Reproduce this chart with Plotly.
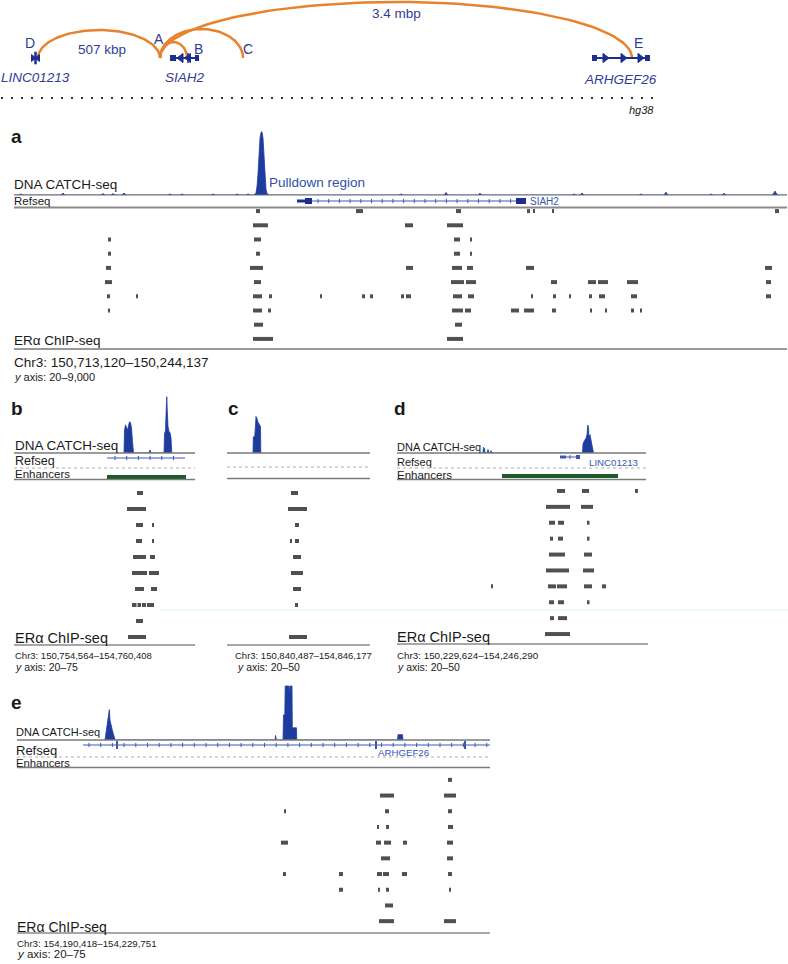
import numpy as np
import plotly.graph_objects as go

W, H = 788, 964
FONT = "Liberation Sans, Arial, Helvetica, sans-serif"
ORANGE = "#E8822C"
NAVY = "#1F2E8E"
LABEL_BLUE = "#2F3D98"
TRACK_BLUE = "#1E3C9E"
GENE_BLUE = "#3B58B8"
CHIP_GRAY = "#505050"
ENH_GREEN = "#1D5A2B"
LINE_GRAY = "#8A8A8A"
BLACK = "#1a1a1a"

# ---------------- schematic (top) ----------------
anchor_names = ["D", "A", "B", "C", "E"]
anchor_pos = [38, 160, 187, 243, 632]
letter_x = [30, 159, 198, 248, 638]
letter_h = [15, 19, 9, 9, 15]
arc_from = ["D", "A", "A", "A"]
arc_to = ["A", "B", "C", "E"]
arc_height = [28, 16, 29, 56]
arc_text = ["507 kbp", "3.4 mbp"]
arc_text_x = [102, 396]
arc_text_h = [9, 45]
gene_names = ["LINC01213", "SIAH2", "ARHGEF26"]
gene_label_x = [35, 185, 620]
gene_label_h = [-19, -19, -21]

# ---------------- DNA CATCH-seq signals ----------------
a_sig_x = [14, 19, 21, 23, 61, 63, 65, 101, 103, 105, 111, 113, 115, 122, 124, 126,
           168, 170, 172, 180, 182, 184, 211, 213, 215, 235, 237, 239, 246, 248, 250,
           254, 256, 257, 258, 259, 260, 261, 262, 263, 264, 265, 266, 267, 269,
           399, 401, 403, 444, 446, 448, 478, 480, 482, 572, 574, 576, 580, 582, 584,
           639, 641, 643, 664, 666, 668, 709, 711, 713, 722, 724, 726,
           772, 774, 775, 776, 778, 787]
a_sig_v = [0, 0, 150, 0, 0, 280, 0, 0, 200, 0, 0, 200, 0, 0, 280, 0,
           0, 150, 0, 0, 150, 0, 0, 150, 0, 0, 150, 0, 0, 150, 0,
           0, 300, 1200, 3000, 6000, 8000, 8800, 8900, 8000, 5500, 2500, 800, 200, 0,
           0, 150, 0, 0, 350, 0, 0, 250, 0, 0, 150, 0, 0, 280, 0,
           0, 150, 0, 0, 400, 0, 0, 150, 0, 0, 250, 0,
           0, 300, 550, 300, 0, 0]

b_sig_x = [124, 124.5, 125.5, 126.5, 127.5, 128.5, 129.5, 130.5, 131.5, 132.5, 133.5,
           149, 150, 151,
           164, 164.5, 165.5, 166.3, 166.8, 167.3, 168, 169, 170, 171, 171.8]
b_sig_v = [0, 30, 37, 33, 30, 36, 41, 40, 33, 15, 0,
           0, 4, 0,
           0, 25, 30, 60, 74, 55, 35, 28, 27, 20, 0]

c_sig_x = [253, 253.3, 254.8, 255.2, 256, 257, 258, 259.5, 260.5, 260.8]
c_sig_v = [0, 14, 15, 30, 32, 30, 27, 25, 23, 0]

d_sig_x = [483, 483.5, 484.5, 485, 487, 488, 489, 490, 491, 492,
           582.5, 583, 584.5, 586, 587, 587.8, 588.5, 589, 590, 591, 592, 593, 593.5]
d_sig_v = [0, 5, 4, 0, 0, 3, 0, 0, 2, 0,
           0, 8, 11, 13, 16, 24.5, 22, 14, 16, 12, 8, 4, 0]

e_sig_x = [105, 106, 107.5, 108.5, 109.3, 110, 111, 112.5, 114, 115,
           275, 275.5, 276.5,
           283, 283.5, 284.8, 285.2, 289, 289.5, 290, 292, 292.3, 296.5, 296.8,
           397.5, 398, 402.5, 403]
e_sig_v = [0, 10, 20, 30, 40, 26, 18, 12, 5, 0,
           0, 6, 0,
           0, 33, 33, 71, 71, 60, 71, 71, 16, 16, 0,
           0, 7, 7, 0]

# ---------------- ERa ChIP-seq peaks (one list per sample row) ----------------
a_peaks = [
    [(256, 260), (356, 363), (456, 461), (527, 530), (533, 535), (552, 554), (775, 779)],
    [(253, 268), (405, 413), (447, 463)],
    [(108, 111), (254, 261), (454, 460), (470, 471.5)],
    [(108, 111), (256, 260), (454, 460), (470, 471.5)],
    [(106, 111), (250, 263), (406, 413), (452, 462), (467, 473), (526, 534), (765, 772)],
    [(105, 112), (254, 261), (451, 464), (466, 476), (551, 557), (588, 596), (598, 608), (627, 638), (766, 771)],
    [(107, 110), (136, 138), (253, 262), (269, 272), (320, 322), (362, 365), (370, 373), (401, 404),
     (406, 411), (453, 462), (468, 474), (531, 532.5), (553, 556), (569, 570.5), (589, 592), (599, 605),
     (631, 637), (766, 771)],
    [(108, 110), (253, 262), (268, 271), (452, 463), (465, 471), (511, 519), (524, 534), (552, 556),
     (590, 591.5), (605, 606.5), (631, 634), (640, 641.5)],
    [(254, 263), (455, 462)],
    [(253, 273), (447, 463)],
]
b_peaks = [
    [(137, 143)],
    [(127, 146)],
    [(136, 143), (152, 154)],
    [(136, 142), (152.5, 154)],
    [(133, 146), (150, 155)],
    [(132, 147), (149, 159)],
    [(135, 144), (151, 157)],
    [(132, 136.5), (137.5, 141), (142, 146), (147, 154)],
    [(136, 143)],
    [(128, 146)],
]
c_peaks = [
    [(291, 298)],
    [(288, 307)],
    [(295, 299)],
    [(290, 291), (295, 299)],
    [(293, 301)],
    [(291, 303)],
    [(293, 301)],
    [(295, 298)],
    [],
    [(289, 307)],
]
d_peaks = [
    [(557, 565), (582, 589), (635, 638)],
    [(546, 570), (581, 593)],
    [(549, 555), (558, 564), (587, 589.5)],
    [(550, 553), (558, 563), (587, 589.5)],
    [(549, 565), (584, 592)],
    [(546, 569), (583, 594)],
    [(491, 493), (548, 556), (557, 567), (584, 592), (602, 606)],
    [(549, 554), (558, 564), (587, 589.5)],
    [(550, 554), (558, 567)],
    [(545, 570)],
]
e_peaks = [
    [(448, 452)],
    [(380, 394), (444, 456)],
    [(284, 285.5), (385, 389), (448, 452)],
    [(377, 378.5), (386, 389), (448, 453)],
    [(281, 288), (376, 381), (384, 391), (403, 407), (447, 453)],
    [(381, 390), (447, 453)],
    [(283, 286), (339, 343), (377, 382), (383, 389), (402, 407), (448, 452)],
    [(339, 343), (378, 379.5), (386, 389), (449, 451)],
    [(385, 393)],
    [(379, 394), (444, 456)],
]

# enhancer intervals
b_enh = (107, 186)
d_enh = (502, 618)

fig = go.Figure()
layout_axes = {}
shapes = []
anns = []


def yaxis_px(key, top, bot, rng):
    layout_axes[key] = dict(domain=[1 - bot / H, 1 - top / H], range=rng, visible=False,
                            fixedrange=True, anchor="x")


def hline(y, x0, x1, color=LINE_GRAY, width=1.5, dash="solid"):
    shapes.append(dict(type="line", xref="paper", yref="paper", x0=x0 / W, x1=x1 / W,
                       y0=1 - y / H, y1=1 - y / H, line=dict(color=color, width=width, dash=dash)))


def txt(s, x, y, size, color=BLACK, anchor="left"):
    anns.append(dict(text=s, x=x / W, y=1 - y / H, xref="paper", yref="paper", xanchor=anchor,
                     yanchor="middle", showarrow=False, borderpad=0,
                     font=dict(size=size, color=color, family=FONT)))


def sig_trace(xs, vs, ya):
    fig.add_trace(go.Scatter(x=xs, y=vs, mode="lines", fill="tozeroy",
                             line=dict(color=TRACK_BLUE, width=0.8), fillcolor=TRACK_BLUE,
                             xaxis="x", yaxis=ya, hoverinfo="skip"))


def chip_trace(peaks, ya, thick):
    rows, base, length = [], [], []
    for i, row in enumerate(peaks, start=1):
        for s, e in row:
            rows.append(i)
            base.append(s)
            length.append(max(e - s, 1.5))
    fig.add_trace(go.Bar(orientation="h", y=rows, x=length, base=base, width=thick,
                         marker=dict(color=CHIP_GRAY, line=dict(width=0)),
                         xaxis="x", yaxis=ya, hoverinfo="skip"))


def seg(x0, x1, ya, yv, color, width):
    fig.add_trace(go.Scatter(x=[x0, x1], y=[yv, yv], mode="lines", line=dict(color=color, width=width),
                             xaxis="x", yaxis=ya, hoverinfo="skip"))


def marks(xs, ya, yv, symbol, size, color, lw=1):
    fig.add_trace(go.Scatter(x=list(xs), y=[yv] * len(xs), mode="markers",
                             marker=dict(symbol=symbol, size=size, color=color,
                                         line=dict(color=color, width=lw)),
                             xaxis="x", yaxis=ya, hoverinfo="skip"))


# ---------------- top schematic ----------------
yaxis_px("yaxis", 0, 130, [-72, 58])
t = np.linspace(0, np.pi, 80)
pos = dict(zip(anchor_names, anchor_pos))
for f, to, h in zip(arc_from, arc_to, arc_height):
    xa, xb = pos[f], pos[to]
    cx, rx = (xa + xb) / 2, (xb - xa) / 2
    fig.add_trace(go.Scatter(x=cx - rx * np.cos(t), y=h * np.sin(t), mode="lines",
                             line=dict(color=ORANGE, width=2.5), xaxis="x", yaxis="y", hoverinfo="skip"))
for n, lx, lh in zip(anchor_names, letter_x, letter_h):
    anns.append(dict(text=n, x=lx, y=lh, xref="x", yref="y", showarrow=False,
                     font=dict(size=14, color=LABEL_BLUE, family=FONT)))
for s, lx, lh in zip(arc_text, arc_text_x, arc_text_h):
    anns.append(dict(text=s, x=lx, y=lh, xref="x", yref="y", showarrow=False,
                     font=dict(size=13.5, color=LABEL_BLUE, family=FONT)))
for g, lx, lh in zip(gene_names, gene_label_x, gene_label_h):
    anns.append(dict(text="<i>%s</i>" % g, x=lx, y=lh, xref="x", yref="y", showarrow=False,
                     font=dict(size=13.5, color=LABEL_BLUE, family=FONT)))
# gene glyphs
seg(31, 40, "y", 0, NAVY, 2)
marks([33], "y", 0, "triangle-right", 6, NAVY)
marks([35.5], "y", 0, "line-ns", 9, NAVY, 2.5)
marks([38], "y", 0, "triangle-left", 6, NAVY)
seg(170, 199, "y", 0, NAVY, 2)
seg(170, 176, "y", 0, NAVY, 6)
seg(195, 199, "y", 0, NAVY, 6)
marks([181, 188.5], "y", 0, "triangle-left", 8, NAVY)
marks([188], "y", 0, "line-ns", 7, NAVY, 1.5)
seg(592, 650, "y", 0, NAVY, 2)
seg(592, 597, "y", 0, NAVY, 6)
seg(645, 650, "y", 0, NAVY, 6)
marks([605, 623, 640], "y", 0, "triangle-right", 8, NAVY)
# dotted genome line
fig.add_trace(go.Scatter(x=[1, 653], y=[-40, -40], mode="lines",
                         line=dict(color="#333333", width=2, dash="2px,8px"),
                         xaxis="x", yaxis="y", hoverinfo="skip"))
anns.append(dict(text="<i>hg38</i>", x=656, y=-52, xref="x", yref="y", xanchor="right",
                 showarrow=False, font=dict(size=11, color=BLACK, family=FONT)))

# ---------------- panel a ----------------
yaxis_px("yaxis2", 131, 195, [0, 9000])
yaxis_px("yaxis3", 196, 206, [0, 1])
yaxis_px("yaxis4", 204, 346, [10.5, 0.5])
sig_trace(a_sig_x, a_sig_v, "y2")
seg(297, 522, "y3", 0.5, GENE_BLUE, 1)
marks(np.arange(318, 512, 10.7), "y3", 0.5, "line-ns", 3, GENE_BLUE, 1)
seg(297, 305, "y3", 0.5, NAVY, 3)
seg(305, 312, "y3", 0.5, NAVY, 6)
seg(516, 526, "y3", 0.5, NAVY, 6)
chip_trace(a_peaks, "y4", 0.28)
hline(195, 14, 787, "#6f6f6f", 1.2)
hline(207.5, 14, 787, "#8a8a8a", 2)
hline(349, 14, 787, "#9a9a9a", 2)
txt("<b>a</b>", 10, 137, 19)
txt("DNA CATCH-seq", 13, 184, 13.5)
txt("Pulldown region", 268, 182, 13.5, "#2F51A8")
txt("Refseq", 13, 201, 11.5)
txt("SIAH2", 529, 201, 10, "#3656B4")
txt("ERα ChIP-seq", 13, 340, 13.5)
txt("Chr3: 150,713,120–150,244,137", 13, 362, 13.5)
txt("<i>y</i> axis: 20–9,000", 13, 377, 11)

# faint scan line
hline(610, 160, 788, "#DDF3F7", 1)

# ---------------- panel b ----------------
yaxis_px("yaxis5", 396, 453, [0, 75])
yaxis_px("yaxis6", 454, 462, [0, 1])
yaxis_px("yaxis7", 473, 481, [0, 1])
yaxis_px("yaxis8", 485, 645, [10.5, 0.5])
sig_trace(b_sig_x, b_sig_v, "y5")
seg(107, 185, "y6", 0.5, GENE_BLUE, 1)
marks(np.arange(115, 180, 11.7), "y6", 0.5, "line-ns", 3, GENE_BLUE, 1)
seg(b_enh[0], b_enh[1], "y7", 0.5, ENH_GREEN, 4)
chip_trace(b_peaks, "y8", 0.25)
hline(453, 14, 195, "#7a7a7a", 1.5)
hline(468, 14, 195, "#b0b0b0", 1, "dot")
hline(479.5, 14, 195, "#7a7a7a", 1.5)
hline(645, 14, 195, "#8a8a8a", 1.5)
txt("<b>b</b>", 10, 408, 19)
txt("DNA CATCH-seq", 14, 445, 13.5)
txt("Refseq", 14, 461, 12.5)
txt("Enhancers", 14, 474, 11.5)
txt("ERα ChIP-seq", 14, 638, 14.5)
txt("Chr3: 150,754,564–154,760,408", 14, 655.5, 9.5)
txt("<i>y</i> axis: 20–75", 14, 666.5, 10.5)

# ---------------- panel c ----------------
yaxis_px("yaxis9", 396, 453, [0, 50])
yaxis_px("yaxis10", 485, 645, [10.5, 0.5])
sig_trace(c_sig_x, c_sig_v, "y9")
chip_trace(c_peaks, "y10", 0.25)
hline(453, 227, 370, "#7a7a7a", 1.5)
hline(467, 227, 370, "#b0b0b0", 1, "dot")
hline(478.5, 227, 370, "#7a7a7a", 1.5)
hline(645, 227, 370, "#8a8a8a", 1.5)
txt("<b>c</b>", 227, 408, 19)
txt("Chr3: 150,840,487–154,846,177", 234, 655.5, 9.5)
txt("<i>y</i> axis: 20–50", 236, 666.5, 10.5)

# ---------------- panel d ----------------
yaxis_px("yaxis11", 396, 453, [0, 50])
yaxis_px("yaxis12", 453, 461, [0, 1])
yaxis_px("yaxis13", 472, 480, [0, 1])
yaxis_px("yaxis14", 483, 642, [10.5, 0.5])
sig_trace(d_sig_x, d_sig_v, "y11")
seg(560, 580, "y12", 0.5, GENE_BLUE, 1)
seg(560, 566, "y12", 0.5, GENE_BLUE, 3)
seg(576, 580, "y12", 0.5, GENE_BLUE, 4)
marks([570], "y12", 0.5, "line-ns", 3, GENE_BLUE, 1)
seg(d_enh[0], d_enh[1], "y13", 0.5, ENH_GREEN, 4)
chip_trace(d_peaks, "y14", 0.25)
hline(453, 397, 646, "#7a7a7a", 1.5)
hline(468, 397, 646, "#b0b0b0", 1, "dot")
hline(479.5, 397, 646, "#7a7a7a", 1.5)
hline(644, 397, 648, "#8a8a8a", 1.5)
txt("<b>d</b>", 393, 408, 19)
txt("DNA CATCH-seq", 396, 447, 11)
txt("Refseq", 396, 462, 11)
txt("LINC01213", 588, 462, 9.7, "#3656B4")
txt("Enhancers", 396, 475, 11.5)
txt("ERα ChIP-seq", 396, 637, 14.5)
txt("Chr3: 150,229,624–154,246,290", 396, 655.5, 9.8)
txt("<i>y</i> axis: 20–50", 396, 666.5, 10.5)

# ---------------- panel e ----------------
yaxis_px("yaxis15", 683, 740, [0, 75])
yaxis_px("yaxis16", 741, 749, [0, 1])
yaxis_px("yaxis17", 772, 929, [10.5, 0.5])
sig_trace(e_sig_x, e_sig_v, "y15")
seg(83, 490, "y16", 0.5, GENE_BLUE, 1)
marks(np.arange(89, 490, 11.7), "y16", 0.5, "line-ns", 3, GENE_BLUE, 1)
marks([117, 376, 465], "y16", 0.5, "line-ns", 7, GENE_BLUE, 2)
chip_trace(e_peaks, "y17", 0.255)
hline(740, 17, 490, "#7a7a7a", 1.5)
hline(757, 17, 490, "#b0b0b0", 1, "dot")
hline(767.5, 17, 490, "#7a7a7a", 1.5)
hline(933, 17, 490, "#8a8a8a", 1.5)
txt("<b>e</b>", 10, 702, 19)
txt("DNA CATCH-seq", 15, 732, 11)
txt("Refseq", 15, 750, 13)
txt("ARHGEF26", 377, 752, 9.7, "#3656B4")
txt("Enhancers", 15, 763, 11.3)
txt("ERα ChIP-seq", 16, 927, 14)
txt("Chr3: 154,190,418–154,229,751", 16, 943, 9.7)
txt("<i>y</i> axis: 20–75", 16, 954, 11.5)

fig.update_layout(
    width=W, height=H, margin=dict(l=0, r=0, t=0, b=0),
    paper_bgcolor="white", plot_bgcolor="rgba(0,0,0,0)", showlegend=False, barmode="overlay",
    xaxis=dict(domain=[0, 1], range=[0, W], visible=False, fixedrange=True, anchor="y"),
    shapes=shapes, annotations=anns, font=dict(family=FONT),
    **layout_axes,
)
fig.write_html("out.html", config={"displayModeBar": False},
               post_script="document.body.style.margin='0px';document.body.style.overflow='hidden';")
